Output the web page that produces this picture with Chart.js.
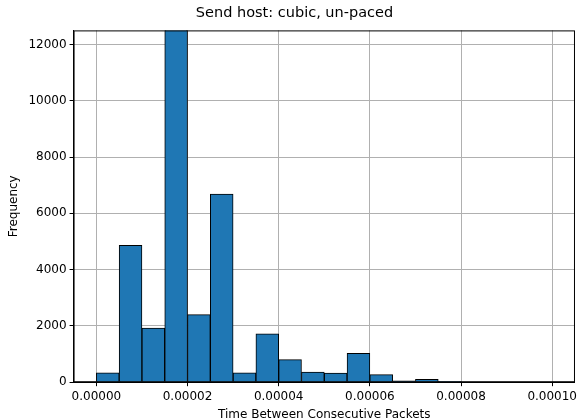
<!DOCTYPE html>
<html lang="en">
  <head>
    <meta charset="UTF-8" />
    <title>Send host: cubic, un-paced</title>
    <style>
      body {
        margin: 0;
        background: #fff;
      }
    </style>
    <script src="https://cdn.jsdelivr.net/npm/chart.js"></script>
  </head>
  <body>
    <div style="width: 580px; height: 420px">
      <canvas id="histChart" width="580" height="420"></canvas>
    </div>

    <script>
      // bin centers (bin width 0.000005 s)
      const binCenters = [
        0.0000025, 0.0000075, 0.0000125, 0.0000175, 0.0000225,
        0.0000275, 0.0000325, 0.0000375, 0.0000425, 0.0000475,
        0.0000525, 0.0000575, 0.0000625, 0.0000675, 0.0000725,
        0.0000775, 0.0000825, 0.0000875, 0.0000925, 0.0000975,
      ];
      // counts per bin
      const counts = [
        330, 4860, 1920, 12900, 2400,
        6680, 330, 1720, 800, 360,
        320, 1030, 270, 50, 100,
        25, 0, 0, 0, 0,
      ];
      const xTicks = [0, 0.00002, 0.00004, 0.00006, 0.00008, 0.0001];
      const yTicks = [0, 2000, 4000, 6000, 8000, 10000, 12000];

      const font = { family: "DejaVu Sans", size: 12 };

      // black frame around the plot area, like matplotlib's axes box
      const frame = {
        id: "frame",
        afterDraw(chart) {
          const { ctx, chartArea: a } = chart;
          ctx.save();
          ctx.strokeStyle = "#000";
          ctx.lineWidth = 1;
          ctx.strokeRect(a.left + 0.5, a.top + 0.5, a.right - a.left - 1, a.bottom - a.top - 1);
          ctx.restore();
        },
      };

      const ctx = document.getElementById("histChart").getContext("2d");
      new Chart(ctx, {
        type: "bar",
        data: {
          datasets: [
            {
              data: binCenters.map((x, i) => ({ x: x, y: counts[i] })),
              backgroundColor: "#1f77b4",
              borderColor: "#000",
              borderWidth: 1,
              barPercentage: 1,
              categoryPercentage: 1,
            },
          ],
        },
        options: {
          responsive: false,
          animation: false,
          layout: { padding: { left: 7, right: -2, top: 0, bottom: -2 } },
          plugins: {
            legend: { display: false },
            tooltip: { enabled: false },
            title: {
              display: true,
              text: "Send host: cubic, un-paced",
              color: "#000",
              font: { family: "DejaVu Sans", size: 14.5, weight: "normal" },
              padding: { top: 5, bottom: 8 },
            },
          },
          scales: {
            x: {
              type: "linear",
              offset: false,
              min: -0.000005,
              max: 0.000105,
              afterBuildTicks: (axis) => {
                axis.ticks = xTicks.map((v) => ({ value: v }));
              },
              ticks: {
                color: "#000",
                font: font,
                maxRotation: 0,
                padding: 3,
                callback: (v) => v.toFixed(5),
              },
              grid: { color: "#b0b0b0", tickColor: "#000", tickLength: 4, offset: false },
              border: { color: "#000" },
              title: {
                display: true,
                text: "Time Between Consecutive Packets",
                color: "#000",
                font: font,
                padding: { top: 1, bottom: 0 },
              },
            },
            y: {
              min: 0,
              max: 12500,
              afterBuildTicks: (axis) => {
                axis.ticks = yTicks.map((v) => ({ value: v }));
              },
              ticks: { color: "#000", font: font, padding: 3, callback: (v) => String(v) },
              grid: { color: "#b0b0b0", tickColor: "#000", tickLength: 4 },
              border: { color: "#000" },
              title: {
                display: true,
                text: "Frequency",
                color: "#000",
                font: font,
                padding: { top: 0, bottom: 4 },
              },
            },
          },
        },
        plugins: [frame],
      });
    </script>
  </body>
</html>
